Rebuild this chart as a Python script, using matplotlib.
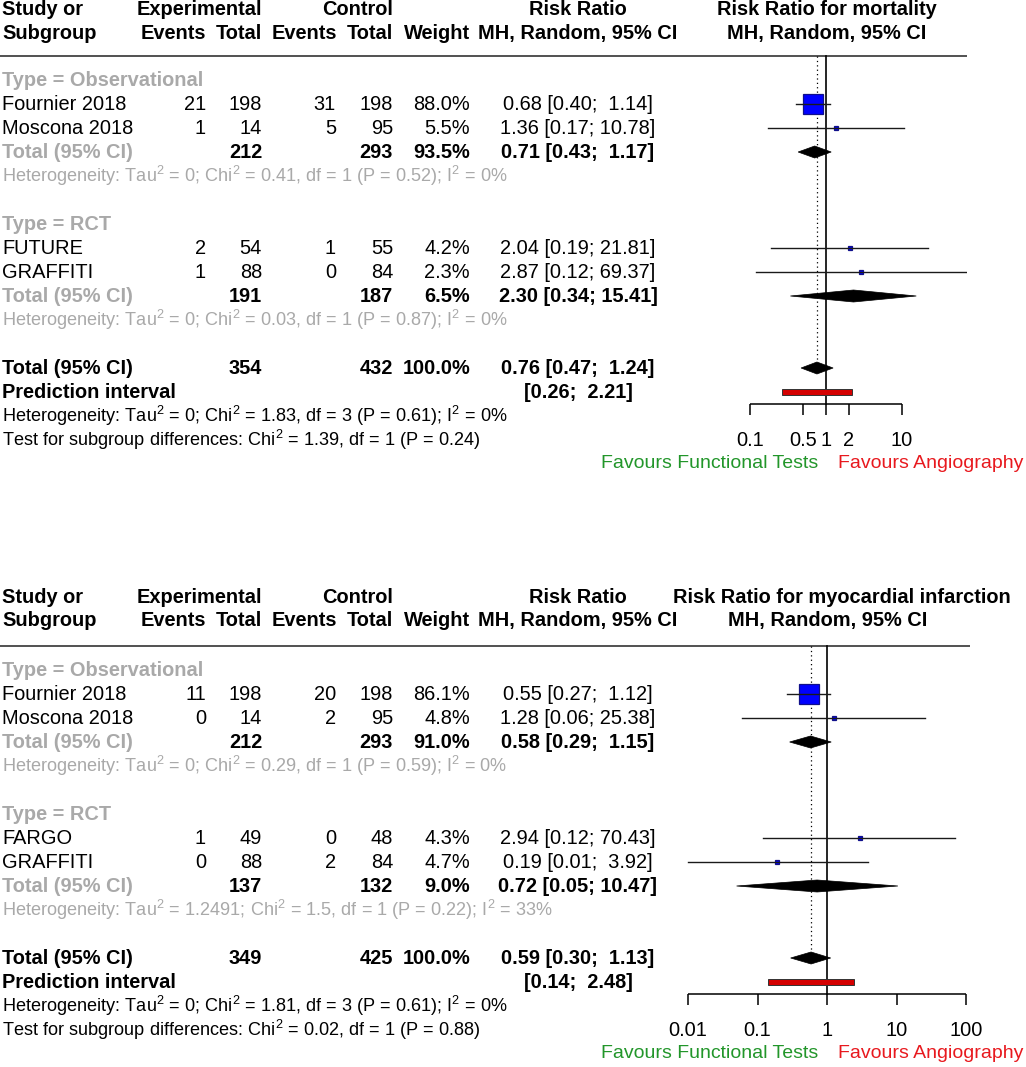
import numpy as np
import matplotlib
matplotlib.use("Agg")
import matplotlib.pyplot as plt
from matplotlib.patches import Polygon, Rectangle

plt.rcParams['font.family'] = ['Liberation Sans', 'DejaVu Sans']
plt.rcParams['mathtext.fontset'] = 'custom'
plt.rcParams['mathtext.rm'] = 'Liberation Sans'
plt.rcParams['mathtext.default'] = 'regular'

# ---- data: mortality ----
m_studies = ["Fournier 2018", "Moscona 2018", "FUTURE", "GRAFFITI"]
m_exp_events = [21, 1, 2, 1]
m_exp_total = [198, 14, 54, 88]
m_ctrl_events = [31, 5, 1, 0]
m_ctrl_total = [198, 95, 55, 84]
m_weight = [88.0, 5.5, 4.2, 2.3]
m_rr = [0.68, 1.36, 2.04, 2.87]
m_lo = [0.40, 0.17, 0.19, 0.12]
m_hi = [1.14, 10.78, 21.81, 69.37]
m_sub_exp = [212, 191]
m_sub_ctrl = [293, 187]
m_sub_weight = [93.5, 6.5]
m_sub_rr = [0.71, 2.30]
m_sub_lo = [0.43, 0.34]
m_sub_hi = [1.17, 15.41]
m_sub_het = ["Heterogeneity: Tau$^2$ = 0; Chi$^2$ = 0.41, df = 1 (P = 0.52); I$^2$ = 0%",
             "Heterogeneity: Tau$^2$ = 0; Chi$^2$ = 0.03, df = 1 (P = 0.87); I$^2$ = 0%"]
m_tot = [354, 432, 100.0, 0.76, 0.47, 1.24]
m_pi = [0.26, 2.21]
m_het = "Heterogeneity: Tau$^2$ = 0; Chi$^2$ = 1.83, df = 3 (P = 0.61); I$^2$ = 0%"
m_test = "Test for subgroup differences: Chi$^2$ = 1.39, df = 1 (P = 0.24)"
m_ticks = [0.1, 0.5, 1, 2, 10]

# ---- data: myocardial infarction ----
i_studies = ["Fournier 2018", "Moscona 2018", "FARGO", "GRAFFITI"]
i_exp_events = [11, 0, 1, 0]
i_exp_total = [198, 14, 49, 88]
i_ctrl_events = [20, 2, 0, 2]
i_ctrl_total = [198, 95, 48, 84]
i_weight = [86.1, 4.8, 4.3, 4.7]
i_rr = [0.55, 1.28, 2.94, 0.19]
i_lo = [0.27, 0.06, 0.12, 0.01]
i_hi = [1.12, 25.38, 70.43, 3.92]
i_sub_exp = [212, 137]
i_sub_ctrl = [293, 132]
i_sub_weight = [91.0, 9.0]
i_sub_rr = [0.58, 0.72]
i_sub_lo = [0.29, 0.05]
i_sub_hi = [1.15, 10.47]
i_sub_het = ["Heterogeneity: Tau$^2$ = 0; Chi$^2$ = 0.29, df = 1 (P = 0.59); I$^2$ = 0%",
             "Heterogeneity: Tau$^2$ = 1.2491; Chi$^2$ = 1.5, df = 1 (P = 0.22); I$^2$ = 33%"]
i_tot = [349, 425, 100.0, 0.59, 0.30, 1.13]
i_pi = [0.14, 2.48]
i_het = "Heterogeneity: Tau$^2$ = 0; Chi$^2$ = 1.81, df = 3 (P = 0.61); I$^2$ = 0%"
i_test = "Test for subgroup differences: Chi$^2$ = 0.02, df = 1 (P = 0.88)"
i_ticks = [0.01, 0.1, 1, 10, 100]

subgroups = ["Type = Observational", "Type = RCT"]

W, H = 1026, 1067
FS = 14.4
FS_HET = 13.1
GRAY = '#a9a9a9'
ROW = 24.0


def ci_text(r, l, h):
    return f"{r:.2f} [{l:.2f}; {h:5.2f}]"


def panel(top_px, bot_px, row0_px, one_px, px_dec, fx1, title, title_x, head_dy,
          studies, ee, et, ce, ct, wt, rr, lo, hi,
          s_exp, s_ctrl, s_w, s_rr, s_lo, s_hi, s_het, tot, pi, het, test, ticks):
    y0 = 1 - bot_px / H
    hh = (bot_px - top_px) / H
    ylim = ((bot_px - row0_px) / ROW, (top_px - row0_px) / ROW)

    bg = fig.add_axes([0, y0, 1, hh])
    bg.set_xlim(0, W)
    bg.set_ylim(*ylim)
    bg.axis('off')

    fx0 = 670
    fa = fig.add_axes([fx0 / W, y0, (fx1 - fx0) / W, hh])
    fa.set_xscale('log')
    fa.set_xlim(10 ** ((fx0 - one_px) / px_dec), 10 ** ((fx1 - one_px) / px_dec))
    fa.set_ylim(*ylim)
    fa.axis('off')
    fa.patch.set_alpha(0)

    # header
    h1, h2, rule = -2.92 + head_dy, -1.95 + head_dy, -0.98
    kw = dict(fontsize=FS, fontweight='bold', va='center')
    bg.text(2, h1, "Study or", ha='left', **kw)
    bg.text(2, h2, "Subgroup", ha='left', **kw)
    bg.text(262, h1, "Experimental", ha='right', **kw)
    bg.text(393, h1, "Control", ha='right', **kw)
    for x, s in [(206, "Events"), (262, "Total"), (337, "Events"), (393, "Total"), (470, "Weight")]:
        bg.text(x, h2, s, ha='right', **kw)
    bg.text(578, h1, "Risk Ratio", ha='center', **kw)
    bg.text(578, h2, "MH, Random, 95% CI", ha='center', **kw)
    bg.text(title_x, h1, title, ha='center', **kw)
    bg.text(one_px + 1, h2, "MH, Random, 95% CI", ha='center', **kw)
    bg.plot([0, fx1], [rule, rule], color='#222222', lw=1.1, solid_capstyle='butt')

    wmax = max(wt)
    for g in range(2):
        base = g * 6
        bg.text(2, base, subgroups[g], ha='left', va='center', fontsize=FS,
                fontweight='bold', color=GRAY)
        for k in range(2):
            i = g * 2 + k
            r = base + 1 + k
            bg.text(2, r, studies[i], ha='left', va='center', fontsize=FS)
            for x, v in [(206, ee[i]), (262, et[i]), (336, ce[i]), (393, ct[i])]:
                bg.text(x, r, str(v), ha='right', va='center', fontsize=FS)
            bg.text(470, r, f"{wt[i]:.1f}%", ha='right', va='center', fontsize=FS)
            bg.text(578, r, ci_text(rr[i], lo[i], hi[i]), ha='center', va='center', fontsize=FS)
            side = 20 * np.sqrt(wt[i] / wmax) * 0.72
            fa.plot([rr[i]], [r], marker='s', ms=side, mfc='#0000ff', mec='#10108a',
                    mew=0.9, zorder=3)
            fa.plot([lo[i], hi[i]], [r, r], color='#1a1a1a', lw=1.0, zorder=4)
        r = base + 3
        bg.text(2, r, "Total (95% CI)", ha='left', va='center', fontsize=FS,
                fontweight='bold', color=GRAY)
        for x, s in [(262, str(s_exp[g])), (393, str(s_ctrl[g])), (470, f"{s_w[g]:.1f}%")]:
            bg.text(x, r, s, ha='right', va='center', fontsize=FS, fontweight='bold')
        bg.text(578, r, ci_text(s_rr[g], s_lo[g], s_hi[g]), ha='center', va='center',
                fontsize=FS, fontweight='bold')
        fa.add_patch(Polygon([(s_lo[g], r), (s_rr[g], r - 0.25), (s_hi[g], r), (s_rr[g], r + 0.25)],
                             closed=True, fc='black', ec='black', lw=0.5, zorder=3))
        bg.text(2, base + 4, s_het[g], ha='left', va='center', fontsize=FS_HET, color=GRAY)

    # overall
    r = 12
    bg.text(2, r, "Total (95% CI)", ha='left', va='center', fontsize=FS, fontweight='bold')
    for x, s in [(262, str(tot[0])), (393, str(tot[1])), (470, f"{tot[2]:.1f}%")]:
        bg.text(x, r, s, ha='right', va='center', fontsize=FS, fontweight='bold')
    bg.text(578, r, ci_text(tot[3], tot[4], tot[5]), ha='center', va='center',
            fontsize=FS, fontweight='bold')
    fa.add_patch(Polygon([(tot[4], r), (tot[3], r - 0.25), (tot[5], r), (tot[3], r + 0.25)],
                         closed=True, fc='black', ec='black', lw=0.5, zorder=3))
    bg.text(2, 13, "Prediction interval", ha='left', va='center', fontsize=FS, fontweight='bold')
    pi_txt = f"[{pi[0]:.2f}; {pi[1]:5.2f}]"
    bg.text(578, 13, pi_txt, ha='center', va='center', fontsize=FS, fontweight='bold')
    fa.add_patch(Rectangle((pi[0], 13 - 0.12), pi[1] - pi[0], 0.24, fc='#d40000',
                           ec='#333333', lw=0.7, zorder=3))
    bg.text(2, 14, het, ha='left', va='center', fontsize=FS_HET)
    bg.text(2, 15, test, ha='left', va='center', fontsize=FS_HET)

    # reference lines
    fa.plot([1, 1], [rule, 13.5], color='black', lw=1.2, zorder=2)
    fa.plot([tot[3], tot[3]], [rule, 12 - 0.25], color='black', lw=0.9,
            ls=(0, (1, 2.5)), zorder=1)

    # x axis
    fa.plot([ticks[0], ticks[-1]], [13.5, 13.5], color='black', lw=1.1, solid_capstyle='butt')
    for t in ticks:
        fa.plot([t, t], [13.5, 13.95], color='black', lw=1.1, solid_capstyle='butt')
        fa.text(t, 15, f"{t:g}", ha='center', va='center', fontsize=FS)
    bg.text(818, 16, "Favours Functional Tests", ha='right', va='center', fontsize=14,
            color='#22962a')
    bg.text(838, 16, "Favours Angiography", ha='left', va='center', fontsize=14,
            color='#e8191e')


fig = plt.figure(figsize=(W / 100, H / 100), dpi=100)

panel(0, 520, 80, 826, 76.0, 967, "Risk Ratio for mortality", 827, 0.0,
      m_studies, m_exp_events, m_exp_total, m_ctrl_events, m_ctrl_total, m_weight,
      m_rr, m_lo, m_hi, m_sub_exp, m_sub_ctrl, m_sub_weight, m_sub_rr, m_sub_lo, m_sub_hi,
      m_sub_het, m_tot, m_pi, m_het, m_test, m_ticks)

panel(520, 1067, 670, 827, 69.5, 970, "Risk Ratio for myocardial infarction", 842, -0.1,
      i_studies, i_exp_events, i_exp_total, i_ctrl_events, i_ctrl_total, i_weight,
      i_rr, i_lo, i_hi, i_sub_exp, i_sub_ctrl, i_sub_weight, i_sub_rr, i_sub_lo, i_sub_hi,
      i_sub_het, i_tot, i_pi, i_het, i_test, i_ticks)

fig.savefig("out.png", dpi=100, facecolor='white')
